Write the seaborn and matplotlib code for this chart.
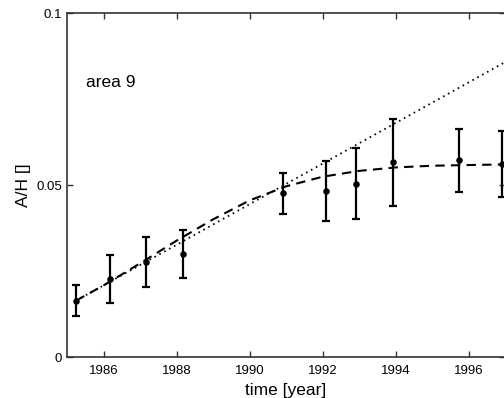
import matplotlib
matplotlib.use("Agg")
import matplotlib.pyplot as plt
import seaborn as sns
import numpy as np
import pandas as pd

# measured data points
years = [1985.25, 1986.17, 1987.16, 1988.17, 1990.91, 1992.09, 1992.92, 1993.92, 1995.75, 1996.91]
values = [0.0164, 0.0227, 0.0277, 0.0300, 0.0476, 0.0482, 0.0504, 0.0566, 0.0572, 0.0562]
errors = [0.0045, 0.0070, 0.0073, 0.0070, 0.0060, 0.0088, 0.0103, 0.0127, 0.0091, 0.0096]

# dashed fit curve (saturating)
fit_years = [1985.25, 1986.0, 1987.0, 1988.0, 1989.0, 1990.0, 1991.0, 1992.0, 1993.0, 1994.0, 1995.0, 1996.0, 1997.1]
fit_values = [0.0164, 0.0208, 0.0272, 0.0338, 0.0400, 0.0455, 0.0496, 0.0524, 0.0541, 0.0551, 0.0556, 0.0558, 0.0560]

# dotted fit curve (unbounded growth)
lin_years = [1985.25, 1988.0, 1990.0, 1992.0, 1994.0, 1996.0, 1997.1]
lin_values = [0.0164, 0.0326, 0.0444, 0.0562, 0.0680, 0.0798, 0.0863]

xticks = [1986, 1988, 1990, 1992, 1994, 1996]
yticks = [0, 0.05, 0.1]
yticklabels = ["0", "0.05", "0.1"]

sns.set_theme(style="ticks")
plt.rcParams['font.family'] = ['Liberation Sans', 'DejaVu Sans']
plt.rcParams['text.color'] = 'black'
plt.rcParams['axes.labelcolor'] = 'black'

fig = plt.figure(figsize=(5.04, 3.98), dpi=100)
ax = fig.add_axes([67 / 504, 41 / 398, 438 / 504, 344 / 398])

df_fit = pd.DataFrame({"t": fit_years, "v": fit_values})
df_lin = pd.DataFrame({"t": lin_years, "v": lin_values})
df_pts = pd.DataFrame({"t": years, "v": values, "e": errors})

sns.lineplot(data=df_lin, x="t", y="v", ax=ax, color="black", lw=1.3,
             linestyle=(0, (0.9, 2.2)), estimator=None, sort=False)
sns.lineplot(data=df_fit, x="t", y="v", ax=ax, color="black", lw=1.5,
             linestyle=(0, (4.5, 3.0)), estimator=None, sort=False)
ax.errorbar(df_pts["t"], df_pts["v"], yerr=df_pts["e"], fmt="none",
            ecolor="black", elinewidth=1.6, capsize=3.2, capthick=1.6)
sns.scatterplot(data=df_pts, x="t", y="v", ax=ax, color="black", s=22,
                edgecolor="black", linewidth=0, zorder=5)

ax.set_xlim(1985, 1997)
ax.set_ylim(0, 0.1)
ax.set_xticks(xticks)
ax.set_yticks(yticks)
ax.set_yticklabels(yticklabels)
ax.tick_params(direction="in", length=4, width=1, colors="#333333",
               labelcolor="black", labelsize=9.5, top=True, right=True, pad=3.5)
ax.tick_params(axis="x", pad=5.5)
for s in ax.spines.values():
    s.set_visible(True)
    s.set_color("#333333")
    s.set_linewidth(1.2)

ax.set_xlabel("time [year]", fontsize=12.5, labelpad=4.5)
ax.set_ylabel("A/H []", fontsize=12.5, labelpad=4)
ax.text(1985.52, 0.0797, "area 9", fontsize=12.5, va="center", ha="left")

fig.savefig("out.png", dpi=100)
